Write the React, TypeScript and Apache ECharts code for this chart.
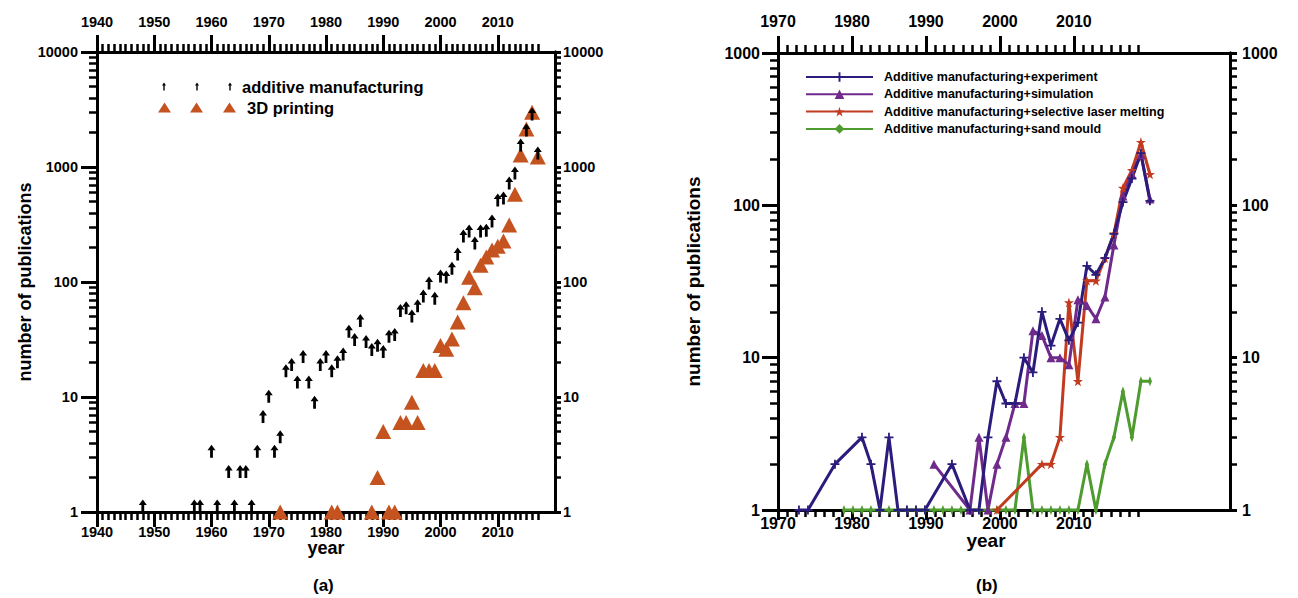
import React, { useEffect, useRef } from "react";
import * as echarts from "echarts";

// ---------- panel (a): publications per year ----------
const amYears = [1948, 1957, 1958, 1960, 1961, 1963, 1964, 1965, 1966, 1967, 1968, 1969, 1970, 1971, 1972, 1973, 1974, 1975, 1976, 1977, 1978, 1979, 1980, 1981, 1982, 1983, 1984, 1985, 1986, 1987, 1988, 1989, 1990, 1991, 1992, 1993, 1994, 1995, 1996, 1997, 1998, 1999, 2000, 2001, 2002, 2003, 2004, 2005, 2006, 2007, 2008, 2009, 2010, 2011, 2012, 2013, 2014, 2015, 2016, 2017];
const amCounts = [1, 1, 1, 3, 1, 2, 1, 2, 2, 1, 3, 6, 9, 3, 4, 15, 17, 12, 20, 12, 8, 17, 20, 15, 18, 21, 33, 28, 41, 27, 23, 25, 22, 30, 31, 50, 53, 45, 55, 67, 87, 64, 100, 98, 117, 155, 223, 246, 194, 246, 250, 301, 458, 477, 644, 787, 1377, 1862, 2564, 1175];
const dpYears = [1972, 1981, 1982, 1988, 1989, 1990, 1991, 1992, 1993, 1994, 1995, 1996, 1997, 1998, 1999, 2000, 2001, 2002, 2003, 2004, 2005, 2006, 2007, 2008, 2009, 2010, 2011, 2012, 2013, 2014, 2015, 2016, 2017];
const dpCounts = [1, 1, 1, 1, 2, 5, 1, 1, 6, 6, 9, 6, 17, 17, 17, 28, 26, 32, 45, 66, 110, 89, 140, 165, 190, 205, 227, 313, 580, 1270, 2140, 3000, 1220];

// ---------- panel (b): publications per year by topic ----------
const expYears = [1978, 1979, 1982, 1985, 1986, 1987, 1988, 1989, 1990, 1991, 1992, 1995, 1997, 1998, 1999, 2000, 2001, 2002, 2003, 2004, 2005, 2006, 2007, 2008, 2009, 2010, 2011, 2012, 2013, 2014, 2015, 2016, 2017];
const expCounts = [1, 1, 2, 3, 2, 1, 3, 1, 1, 1, 1, 2, 1, 1, 3, 7, 5, 5, 10, 8, 20, 12, 18, 13, 17, 40, 35, 45, 65, 105, 150, 220, 107];
const simYears = [1993, 1997, 1998, 1999, 2000, 2001, 2002, 2003, 2004, 2005, 2006, 2007, 2008, 2009, 2010, 2011, 2012, 2013, 2014, 2015, 2016, 2017];
const simCounts = [2, 1, 3, 1, 2, 3, 5, 5, 15, 14, 10, 10, 9, 24, 22, 18, 25, 55, 115, 160, 215, 110];
const slmYears = [2000, 2005, 2006, 2007, 2008, 2009, 2010, 2011, 2012, 2013, 2014, 2015, 2016, 2017];
const slmCounts = [1, 2, 2, 3, 23, 7, 32, 32, 45, 65, 130, 170, 260, 160];
const sandYears = [1983, 1984, 1985, 1986, 1987, 1988, 1989, 1990, 1991, 1992, 1993, 1994, 1995, 1996, 1997, 1998, 1999, 2000, 2001, 2002, 2003, 2004, 2005, 2006, 2007, 2008, 2009, 2010, 2011, 2012, 2013, 2014, 2015, 2016, 2017];
const sandCounts = [1, 1, 1, 1, 1, 1, 1, 1, 1, 1, 1, 1, 1, 1, 1, 1, 1, 1, 1, 1, 3, 1, 1, 1, 1, 1, 1, 2, 1, 2, 3, 6, 3, 7, 7];

// ---------- tick labels ----------
const aYearLabels = [1940, 1950, 1960, 1970, 1980, 1990, 2000, 2010];
const bYearLabels = [1970, 1980, 1990, 2000, 2010];
const aCountLabels = [1, 10, 100, 1000, 10000];
const bCountLabels = [1, 10, 100, 1000];

const NAME_AM = "additive manufacturing";
const NAME_3D = "3D printing";
const NAME_EXP = "Additive manufacturing+experiment";
const NAME_SIM = "Additive manufacturing+simulation";
const NAME_SLM = "Additive manufacturing+selective laser melting";
const NAME_SAND = "Additive manufacturing+sand mould";

const FONT = "'Liberation Sans', Arial, Helvetica, sans-serif";
const TXT = { color: "#000", fontWeight: "bold" as const, fontFamily: FONT };

// minor tick positions (axis decoration only)
function minorTicks(from: number, to: number, step: number, major: number): number[] {
  const out: number[] = [];
  for (let k = 1; from + k * step <= to + 1e-9; k++) {
    const v = +(from + k * step).toFixed(4);
    if (Math.abs(v / major - Math.round(v / major)) > 1e-6) out.push(v);
  }
  return out;
}
function logMinor(maxDecade: number): number[] {
  const out: number[] = [];
  for (let d = 1; d < maxDecade; d *= 10) for (let k = 2; k <= 9; k++) out.push(k * d);
  return out;
}

const axisLine = { show: true, onZero: false, lineStyle: { color: "#000", width: 3 } };
const tick = (values: number[], length: number, width: number) => ({
  show: true, inside: false, length, customValues: values, lineStyle: { color: "#000", width },
});
const label = (values: number[], margin: number, size: number) => ({
  show: true, customValues: values, margin, fontSize: size, ...TXT,
  formatter: (v: number) => String(Math.round(v)),
});
const noLabel = { show: false };

type Panel = {
  grid: number; xMin: number; xMax: number; xMajor: number[]; xMinor: number[];
  yMax: number; yMajor: number[]; yMinor: number[];
  tickSize: number; nameSize: number; xGap: number; yGap: number; xNamePad: number[];
  bot: number; botMajor: number; botMinor: number; top: number; left: number; right: number; rightTick: number;
};

function xAxesFor(p: Panel) {
  const base = { type: "value", gridIndex: p.grid, min: p.xMin, max: p.xMax, splitLine: { show: false }, axisLine };
  return [
    { ...base, position: "bottom", name: "year", nameLocation: "middle", nameGap: p.xGap, nameMoveOverlap: false,
      nameTextStyle: { ...TXT, fontSize: p.nameSize, padding: p.xNamePad },
      axisTick: tick(p.xMajor, p.botMajor, 3), axisLabel: label(p.xMajor, p.bot, p.tickSize) },
    { ...base, position: "bottom", axisTick: tick(p.xMinor, p.botMinor, 2.5), axisLabel: noLabel },
    { ...base, position: "top", axisTick: tick(p.xMajor, 17, 3), axisLabel: label(p.xMajor, p.top, p.tickSize) },
    { ...base, position: "top", axisTick: tick(p.xMinor, 8, 2.5), axisLabel: noLabel },
  ];
}
function yAxesFor(p: Panel) {
  const base = { type: "log", logBase: 10, gridIndex: p.grid, min: 1, max: p.yMax, splitLine: { show: false }, axisLine };
  return [
    { ...base, position: "left", name: "number of publications", nameLocation: "middle", nameGap: p.yGap, nameMoveOverlap: false,
      nameTextStyle: { ...TXT, fontSize: p.nameSize }, axisTick: tick(p.yMajor, 16, 3), axisLabel: label(p.yMajor, p.left, p.tickSize) },
    { ...base, position: "left", axisTick: tick(p.yMinor, 8, 2.5), axisLabel: noLabel },
    { ...base, position: "right", axisTick: tick(p.yMajor, p.rightTick, 3), axisLabel: label(p.yMajor, p.right, p.tickSize) },
    { ...base, position: "right", axisTick: tick(p.yMinor, p.rightTick, 2.5), axisLabel: noLabel },
  ];
}

const panelA: Panel = {
  grid: 0, xMin: 1940, xMax: 2020, xMajor: aYearLabels, xMinor: minorTicks(1940, 2017, 1, 10),
  yMax: 10000, yMajor: aCountLabels, yMinor: logMinor(10000),
  tickSize: 14.5, nameSize: 18, xGap: 27, yGap: 63, xNamePad: [0, 0, 0, 0],
  bot: 12, botMajor: 15, botMinor: 8, top: 23, left: 19, right: 8, rightTick: 6,
};
// panel (b) as printed: the year scale drawn on its frame (decades 74 px apart, ticks every 1.25)
const panelB: Panel = {
  grid: 1, xMin: 1970, xMax: 2031.1, xMajor: bYearLabels, xMinor: minorTicks(1970, 2018.8, 1.25, 10),
  yMax: 1000, yMajor: bCountLabels, yMinor: logMinor(1000),
  tickSize: 16, nameSize: 19, xGap: 21, yGap: 75, xNamePad: [0, 36, 0, 0],
  bot: 5, botMajor: 10, botMinor: 7, top: 24, left: 18, right: 12, rightTick: 7,
};
// the yearly series of panel (b) sit on their own (hidden) year scale, as in the printed figure
const bDataYearMin = 1975.67;
const bDataYearMax = 2025.9;

const ARROW = "path://M4,0 L8,5.5 L5.4,5.5 L5.4,13 L2.6,13 L2.6,5.5 L0,5.5 Z";
const ARROW3 =
  "path://M0,3 L2,0 L4,3 L2.7,3 L2.7,8 L1.3,8 L1.3,3 Z M33,3 L35,0 L37,3 L35.7,3 L35.7,8 L34.3,8 L34.3,3 Z M66,3 L68,0 L70,3 L68.7,3 L68.7,8 L67.3,8 L67.3,3 Z";
const TRI3 = "path://M0,10 L6.5,0 L13,10 Z M32,10 L38.5,0 L45,10 Z M65,10 L71.5,0 L78,10 Z";
const PLUS = "path://M3.6,0 L5.4,0 L5.4,3.6 L9,3.6 L9,5.4 L5.4,5.4 L5.4,9 L3.6,9 L3.6,5.4 L0,5.4 L0,3.6 L3.6,3.6 Z";
const STAR = "path://M5,0 L6.2,3.6 L10,3.6 L6.9,5.9 L8.1,9.5 L5,7.3 L1.9,9.5 L3.1,5.9 L0,3.6 L3.8,3.6 Z";
const DIAMOND = "path://M2,0 L4,5 L2,10 L0,5 Z";

const C_NAVY = "#2B1B7C";
const C_PURPLE = "#702A8C";
const C_RED = "#C23B1F";
const C_GREEN = "#4E9B2F";
const C_ORANGE = "#C5531F";

const pairs = (xs: number[], ys: number[]) => xs.map((x, i) => [x, ys[i]]);

function lineSeries(name: string, xs: number[], ys: number[], color: string, symbol: string, size: number | number[]) {
  return {
    type: "line", name, xAxisIndex: 8, yAxisIndex: 4, data: pairs(xs, ys),
    symbol, symbolSize: size, showSymbol: true, showAllSymbol: true, clip: false,
    lineStyle: { color, width: 3 }, itemStyle: { color, opacity: 1 },
  };
}

export default function App() {
  const ref = useRef<HTMLDivElement>(null);
  useEffect(() => {
    if (!ref.current) return;
    const chart = echarts.init(ref.current, undefined, { renderer: "svg" });
    const option: any = {
      animation: false,
      backgroundColor: "#fff",
      textStyle: { fontFamily: FONT },
      grid: [
        { left: 97, top: 52, width: 458, height: 460 },
        { left: 778, top: 53, width: 452, height: 457 },
      ],
      xAxis: [
        ...xAxesFor(panelA),
        ...xAxesFor(panelB),
        { type: "value", gridIndex: 1, min: bDataYearMin, max: bDataYearMax, show: false, position: "bottom" },
      ],
      yAxis: [...yAxesFor(panelA), ...yAxesFor(panelB)],
      legend: [
        { data: [{ name: NAME_AM, icon: ARROW3 }], left: 162, top: 78, padding: 0, itemWidth: 70, itemHeight: 8,
          selectedMode: false, textStyle: { ...TXT, fontSize: 16.5, padding: [0, 0, 0, 5] } },
        { data: [{ name: NAME_3D, icon: TRI3 }], left: 158, top: 99, padding: 0, itemWidth: 78, itemHeight: 10,
          selectedMode: false, textStyle: { ...TXT, fontSize: 16.5, padding: [0, 0, 0, 6] } },
        { data: [NAME_EXP, NAME_SIM, NAME_SLM, NAME_SAND], orient: "vertical", left: 805, top: 70, padding: 0,
          itemWidth: 67, itemHeight: 12, itemGap: 3.3, selectedMode: false,
          textStyle: { ...TXT, fontSize: 12.5, lineHeight: 14, padding: [0, 0, 0, 6] } },
      ],
      series: [
        { type: "scatter", name: NAME_3D, xAxisIndex: 0, yAxisIndex: 0, data: pairs(dpYears, dpCounts),
          symbol: "triangle", symbolSize: [16, 15], clip: false, itemStyle: { color: C_ORANGE, opacity: 1 } },
        { type: "scatter", name: NAME_AM, xAxisIndex: 0, yAxisIndex: 0, data: pairs(amYears, amCounts),
          symbol: ARROW, symbolSize: [8, 13], symbolOffset: [0, -6], clip: false, itemStyle: { color: "#000", opacity: 1 } },
        lineSeries(NAME_SAND, sandYears, sandCounts, C_GREEN, DIAMOND, [4, 10]),
        lineSeries(NAME_SLM, slmYears, slmCounts, C_RED, STAR, 10),
        lineSeries(NAME_SIM, simYears, simCounts, C_PURPLE, "triangle", 9),
        lineSeries(NAME_EXP, expYears, expCounts, C_NAVY, PLUS, 9),
      ],
      graphic: [
        { type: "text", left: 313, top: 577, style: { text: "(a)", fill: "#000", font: `bold 17px ${FONT}` } },
        { type: "text", left: 976, top: 577, style: { text: "(b)", fill: "#000", font: `bold 17px ${FONT}` } },
      ],
    };
    chart.setOption(option);
    return () => chart.dispose();
  }, []);
  return <div ref={ref} style={{ position: "fixed", left: 0, top: 0, width: 1298, height: 598 }} />;
}
